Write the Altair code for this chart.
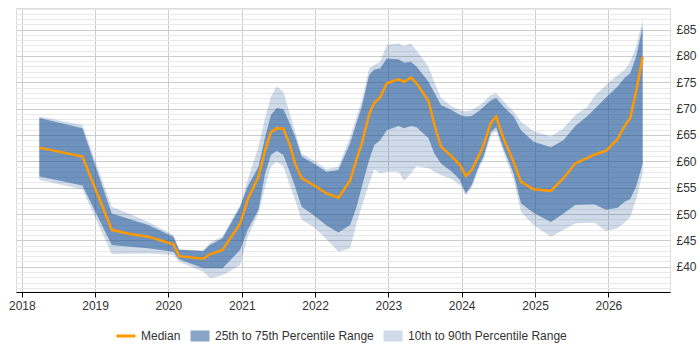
import altair as alt
import pandas as pd

# ---- data ----
dates = [
    "2018-03-29", "2018-10-30", "2019-03-25", "2019-06-24", "2019-09-23",
    "2020-01-26", "2020-02-24", "2020-06-23", "2020-07-26", "2020-09-27",
    "2020-12-24", "2021-01-30", "2021-03-25", "2021-04-27", "2021-05-26",
    "2021-06-24", "2021-07-27", "2021-08-29", "2021-09-23", "2021-10-26",
    "2021-12-24", "2022-02-27", "2022-04-27", "2022-06-24", "2022-07-27",
    "2022-08-22", "2022-09-27", "2022-10-23", "2022-11-21", "2022-12-24",
    "2023-02-20", "2023-03-21", "2023-04-23", "2023-05-22", "2023-07-20",
    "2023-08-18", "2023-09-20", "2023-11-14", "2023-12-24", "2024-01-22",
    "2024-02-20", "2024-04-01", "2024-04-19", "2024-05-26", "2024-06-21",
    "2024-07-27", "2024-09-16", "2024-10-23", "2024-12-24", "2025-03-21",
    "2025-05-22", "2025-07-20", "2025-09-16", "2025-10-26", "2025-12-20",
    "2026-02-16", "2026-03-21", "2026-04-20", "2026-05-19", "2026-06-21",
]

median = [
    62.6, 60.9, 47.0, 46.2, 45.7, 44.25, 42.0, 41.5, 42.35, 43.2,
    48.2, 52.7, 57.1, 62.1, 65.5, 66.3, 66.2, 63.0, 59.6, 56.8,
    55.5, 53.9, 53.1, 56.3, 60.4, 63.4, 68.9, 71.1, 72.1, 74.8,
    75.55, 75.1, 75.9, 74.8, 71.45, 67.0, 62.8, 60.9, 59.3, 57.2,
    58.35, 61.5, 63.1, 67.3, 68.5, 64.4, 59.9, 56.1, 54.7, 54.4,
    56.8, 59.6, 60.6, 61.3, 62.0, 64.2, 66.6, 68.2, 73.2, 79.85,
]

p25 = [
    57.1, 55.4, 44.1, 43.8, 43.5, 42.85, 41.4, 39.7, 39.7, 39.7,
    43.2, 47.0, 50.8, 57.7, 61.2, 62.0, 61.2, 57.9, 55.2, 51.4,
    49.8, 47.8, 46.5, 47.9, 51.4, 55.2, 60.25, 63.1, 64.0, 65.9,
    66.7, 66.3, 66.7, 66.45, 64.4, 61.5, 59.6, 58.0, 56.45, 53.9,
    55.5, 59.6, 60.9, 65.6, 66.45, 62.5, 57.7, 52.0, 50.25, 48.5,
    50.1, 51.7, 51.8, 51.8, 50.8, 51.2, 52.3, 52.85, 55.2, 59.6,
]

p75 = [
    68.2, 66.3, 50.1, 49.0, 47.9, 45.7, 43.2, 43.0, 44.1, 45.4,
    51.4, 55.2, 59.0, 64.6, 68.8, 70.1, 69.9, 67.1, 64.7, 60.9,
    59.6, 58.0, 58.35, 63.4, 67.4, 70.4, 76.4, 77.45, 77.6, 79.5,
    79.35, 78.7, 78.9, 77.95, 75.1, 73.0, 70.7, 69.7, 68.8, 68.5,
    68.6, 69.7, 70.3, 71.6, 72.0, 70.4, 68.5, 65.9, 63.7, 62.65,
    64.0, 66.7, 68.5, 70.0, 72.1, 74.2, 75.75, 76.7, 79.85, 85.5,
]

p10 = [
    56.45, 54.7, 42.4, 42.45, 42.5, 42.2, 40.95, 39.05, 37.8, 38.4,
    40.3, 45.7, 50.1, 55.2, 59.0, 59.9, 59.0, 55.4, 52.65, 48.9,
    47.6, 45.2, 42.85, 43.5, 48.2, 51.5, 55.8, 58.5, 57.7, 58.0,
    58.0, 56.3, 57.7, 59.1, 58.7, 58.0, 57.4, 56.6, 55.5, 53.6,
    55.0, 59.0, 60.25, 65.0, 65.8, 61.8, 56.45, 50.4, 47.9, 45.7,
    47.0, 48.2, 48.35, 48.35, 46.8, 47.3, 48.3, 49.5, 52.7, 57.7,
]

p90 = [
    68.5, 66.9, 51.4, 50.0, 48.5, 46.0, 43.3, 43.1, 44.55, 45.8,
    51.7, 56.45, 62.8, 68.2, 72.3, 74.2, 73.2, 68.9, 65.75, 61.5,
    60.2, 58.5, 59.0, 64.5, 68.5, 71.6, 77.6, 78.3, 78.9, 82.1,
    82.4, 81.9, 82.4, 81.0, 77.95, 75.0, 72.0, 70.4, 69.7, 69.5,
    69.7, 70.7, 71.2, 72.6, 72.9, 71.45, 69.4, 67.5, 65.75, 64.7,
    66.3, 68.8, 70.25, 72.5, 74.5, 76.4, 77.3, 78.9, 81.75, 86.8,
]

tick_years = [2018, 2019, 2020, 2021, 2022, 2023, 2024, 2025, 2026]
series_names = ["Median", "25th to 75th Percentile Range", "10th to 90th Percentile Range"]

# ---- tables ----
n = len(dates)
band_df = pd.DataFrame({
    "date": dates + dates,
    "lo": p10 + p25,
    "hi": p90 + p75,
    "series": [series_names[2]] * n + [series_names[1]] * n,
})
med_df = pd.DataFrame({"date": dates, "value": median, "series": [series_names[0]] * n})

FONT = "Liberation Sans"

color_scale = alt.Scale(
    domain=series_names,
    range=["#ff9900", "rgba(17,75,145,0.5)", "rgba(17,75,145,0.2)"],
)

legend = alt.Legend(
    orient="none",
    direction="horizontal",
    legendX=104,
    legendY=322,
    title=None,
    symbolSize=361,
    symbolType=alt.ExprRef(expr="datum.value === 'Median' ? 'M-1,0H1' : 'M-1,-0.58H1V0.58H-1Z'"),
    symbolStrokeWidth=alt.ExprRef(expr="datum.value === 'Median' ? 3 : 0"),
    symbolStrokeColor=alt.ExprRef(expr="scale('color', datum.value)"),
    symbolFillColor=alt.ExprRef(expr="datum.value === 'Median' ? 'transparent' : scale('color', datum.value)"),
    symbolOpacity=1,
    labelFontSize=12,
    labelFont=FONT,
    labelColor="#333333",
    columnPadding=9,
    labelOffset=9,
    padding=0,
)

x_enc = alt.X(
    "date:T",
    scale=alt.Scale(
        type="utc",
        domain=[alt.DateTime(year=2017, month=12, date=3, utc=True),
                alt.DateTime(year=2026, month=11, date=4, utc=True)],
        nice=False,
    ),
    axis=alt.Axis(
        values=[alt.DateTime(year=y, month=1, date=1, utc=True) for y in tick_years],
        format="%Y",
        formatType="utc",
        title=None,
        grid=True,
        gridColor="#cccccc",
        domainColor="#000000",
        tickColor="#000000",
        tickSize=5,
        labelPadding=3,
        labelFontSize=12,
        labelFont=FONT,
        labelColor="#333333",
        labelFlush=False,
        labelOverlap=False,
    ),
)

y_scale = alt.Scale(domain=[35.2, 89.1], nice=False, zero=False)
y_axis = alt.Axis(
    orient="right",
    values=list(range(36, 90)),
    labelExpr="datum.value % 5 === 0 ? '£' + datum.value : ''",
    gridColor={"condition": {"test": "datum.value % 5 === 0", "value": "#cccccc"}, "value": "#e9e9e9"},
    ticks=False,
    domain=False,
    labelPadding=6,
    labelFontSize=12,
    labelFont=FONT,
    labelColor="#333333",
    labelOverlap=False,
    title=None,
)

bands = alt.Chart(band_df).mark_area(interpolate="linear").encode(
    x=x_enc,
    y=alt.Y("lo:Q", scale=y_scale, axis=y_axis),
    y2="hi:Q",
    color=alt.Color("series:N", scale=color_scale, legend=legend),
)

line = alt.Chart(med_df).mark_line(strokeWidth=2.5, interpolate="linear").encode(
    x=x_enc,
    y=alt.Y("value:Q", scale=y_scale, axis=y_axis),
    color=alt.Color("series:N", scale=color_scale, legend=legend),
)

chart = alt.layer(bands, line).properties(
    width=654,
    height=284,
    padding={"left": 16, "top": 8, "right": 30, "bottom": 58},
    autosize=alt.AutoSizeParams(type="none"),
).configure_view(stroke=None).configure(font=FONT)

chart.save("out.html", embed_options={"renderer": "svg", "actions": False})
